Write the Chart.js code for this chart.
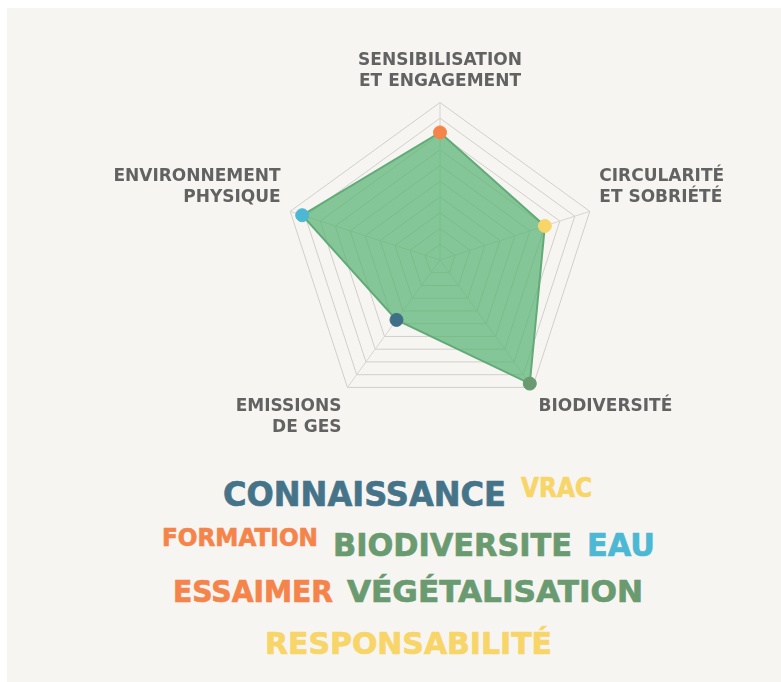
<!DOCTYPE html>
<html>
<head>
<meta charset="utf-8">
<script src="https://cdn.jsdelivr.net/npm/chart.js@4"></script>
<style>
  html, body { margin: 0; padding: 0; background: #ffffff; }
  #panel { position: absolute; left: 7px; top: 8px; width: 774px; height: 674px; background: #f7f5f2; }
  #wrap { position: absolute; left: 79px; top: 31px; width: 690px; height: 420px; }
  .word { position: absolute; font-family: 'DejaVu Sans', sans-serif; font-weight: bold; white-space: nowrap; line-height: 1; transform-origin: 0 0; -webkit-text-stroke: 0.7px currentColor; }
</style>
</head>
<body>
<div id="panel"></div>
<div id="wrap"><canvas id="myChart"></canvas></div>
<div id="cloud"></div>
<script>
var categories = [
  ['SENSIBILISATION', 'ET ENGAGEMENT'],
  ['CIRCULARITÉ', 'ET SOBRIÉTÉ'],
  ['BIODIVERSITÉ'],
  ['EMISSIONS', 'DE GES'],
  ['ENVIRONNEMENT', 'PHYSIQUE']
];
var scores = [8.1, 7, 9.7, 4.7, 9.2];
var pointColors = ['#f5844a', '#f8d568', '#6a9a70', '#3f6f86', '#4cb8d4'];

var words = ['CONNAISSANCE', 'VRAC', 'FORMATION', 'BIODIVERSITE', 'EAU', 'ESSAIMER', 'VÉGÉTALISATION', 'RESPONSABILITÉ'];
var wordColors = ['#457489', '#f8d568', '#f5844a', '#6a9a70', '#4cb8d4', '#f5844a', '#6a9a70', '#f8d568'];
// left, baseline, width, font size
var wordBox = [
  [223, 506, 283, 33],
  [521, 497, 71, 26],
  [162, 546, 156, 25],
  [333, 556, 239, 32],
  [587, 556, 68, 32],
  [173, 602, 160, 30],
  [347, 602, 296, 30],
  [265, 654, 287, 30]
];

document.addEventListener('DOMContentLoaded', function() {
  var cloud = document.getElementById('cloud');
  words.forEach(function(w, i) {
    var b = wordBox[i];
    var s = document.createElement('span');
    s.className = 'word';
    s.textContent = w;
    s.style.color = wordColors[i];
    s.style.fontSize = b[3] + 'px';
    s.style.left = b[0] + 'px';
    s.style.top = (b[1] - 0.846 * b[3]) + 'px';
    cloud.appendChild(s);
    var k = b[2] / s.getBoundingClientRect().width;
    s.style.transform = 'scaleX(' + k + ')';
  });

  var data = {
    labels: categories,
    datasets: [{
      label: 'Score',
      data: scores,
      backgroundColor: 'rgba(88, 180, 115, 0.72)',
      borderColor: '#62aa78',
      borderWidth: 2,
      pointBackgroundColor: pointColors,
      pointBorderColor: pointColors,
      pointRadius: 6.5,
      pointBorderWidth: 1
    }]
  };

  var options = {
    responsive: true,
    maintainAspectRatio: false,
    animation: false,
    layout: { padding: 0 },
    plugins: {
      legend: { display: false },
      tooltip: { enabled: false }
    },
    scales: {
      r: {
        min: 0,
        max: 10,
        ticks: { display: false, stepSize: 1 },
        grid: { color: '#d2cfca', lineWidth: 1 },
        angleLines: { color: '#d8d5d0', lineWidth: 1 },
        pointLabels: {
          color: '#626262',
          padding: 10,
          font: { family: 'DejaVu Sans', size: 17, weight: 'bold', lineHeight: 1.25 }
        }
      }
    }
  };

  var ctx = document.getElementById('myChart').getContext('2d');
  new Chart(ctx, { type: 'radar', data: data, options: options });
});
</script>
</body>
</html>
